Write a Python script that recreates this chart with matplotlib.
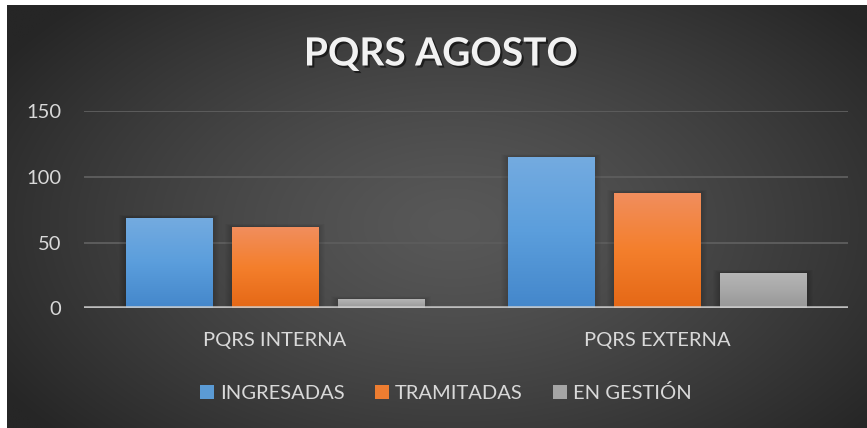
import numpy as np
import matplotlib.pyplot as plt
from matplotlib.colors import LinearSegmentedColormap
from matplotlib.patches import Patch, Rectangle
import matplotlib.patheffects as pe

plt.rcParams['font.family'] = ['Lato', 'DejaVu Sans']

categories = ['PQRS INTERNA', 'PQRS EXTERNA']
series = ['INGRESADAS', 'TRAMITADAS', 'EN GESTIÓN']
ingresadas = [69, 115]
tramitadas = [62, 88]
en_gestion = [7, 27]
values = [ingresadas, tramitadas, en_gestion]

# top -> bottom colors of each series gradient
grad_colors = [['#74abe0', '#5b9edc', '#4487cb'],
               ['#f18e5e', '#f47f2c', '#e56816'],
               ['#b6b6b6', '#a8a8a8', '#979797']]
mid_colors = ['#5b9bd5', '#ed7d31', '#a5a5a5']
txt = '#d9d9d9'

W, H = 867, 428
fig = plt.figure(figsize=(W / 100, H / 100), dpi=100)
fig.patch.set_facecolor('white')

# background with radial gradient
bg = fig.add_axes([7 / W, 0, (W - 7) / W, (H - 5) / H])
bg.set_axis_off()
yy, xx = np.mgrid[0:1:300j, 0:1:600j]
d = np.sqrt(((xx - 0.52) / 0.62) ** 2 + ((yy - 0.52) / 0.75) ** 2)
d = np.clip(d, 0, 1) ** 1.3
c0 = np.array([0x58, 0x58, 0x58]) / 255
c1 = np.array([0x26, 0x26, 0x26]) / 255
img = c0[None, None, :] * (1 - d[..., None]) + c1[None, None, :] * d[..., None]
bg.imshow(img, aspect='auto', extent=[0, 1, 0, 1], interpolation='bilinear')
bg.set_xlim(0, 1)
bg.set_ylim(0, 1)

ax = fig.add_axes([84 / W, 1 - 308.3 / H, (848 - 84) / W, (308.3 - 111) / H])
ax.set_facecolor('none')

x = np.arange(len(categories))
width = 0.227
offsets = [-0.2775, 0, 0.2775]

for i, s in enumerate(series):
    bars = ax.bar(x + offsets[i], values[i], width, color=mid_colors[i],
                  zorder=3, label=s)
    cmap = LinearSegmentedColormap.from_list('g%d' % i, grad_colors[i][::-1])
    for b in bars:
        x0, y0 = b.get_x(), b.get_y()
        w, h = b.get_width(), b.get_height()
        # soft shadow
        for k in range(1, 8):
            ax.add_patch(Rectangle((x0 - 0.0024 * k, y0), w + 0.0048 * k, h + 0.3 * k,
                                   color='black', alpha=0.022, lw=0, zorder=2))
        im = ax.imshow(np.linspace(0, 1, 100)[:, None], cmap=cmap, aspect='auto',
                       extent=[x0, x0 + w, y0, y0 + h], origin='lower', zorder=3.5)
        im.set_clip_path(b)

ax.set_xlim(-0.5, 1.5)
ax.set_ylim(0, 150)
ax.set_yticks([0, 50, 100, 150])
ax.set_xticks(x, categories)
ax.yaxis.grid(True, color='#5c5c5c', lw=1.4, zorder=1)
ax.set_axisbelow(True)
ax.axhline(0, color='#cfcfcf', lw=2.6, alpha=0.85, zorder=5)
for sp in ax.spines.values():
    sp.set_visible(False)
ax.tick_params(axis='y', length=0, pad=16.5, labelsize=14.5, labelcolor=txt)
ax.tick_params(axis='x', length=0, pad=17, labelsize=14.5, labelcolor=txt)

fig.text(441 / W, 1 - 54 / H, 'PQRS AGOSTO', ha='center', va='center',
         fontsize=28, fontweight='bold', color='#f2f2f2',
         path_effects=[pe.withSimplePatchShadow(offset=(1.5, -1.5),
                                                shadow_rgbFace='black', alpha=0.55)])

handles = [Patch(facecolor=c, edgecolor='none') for c in mid_colors]
fig.legend(handles, series, loc='center', bbox_to_anchor=(446 / W, 1 - 393 / H),
           ncol=3, frameon=False, fontsize=14.5, labelcolor=txt,
           handlelength=0.7, handleheight=0.7, handletextpad=0.3,
           columnspacing=1.5)

fig.savefig('out.png', dpi=100)
